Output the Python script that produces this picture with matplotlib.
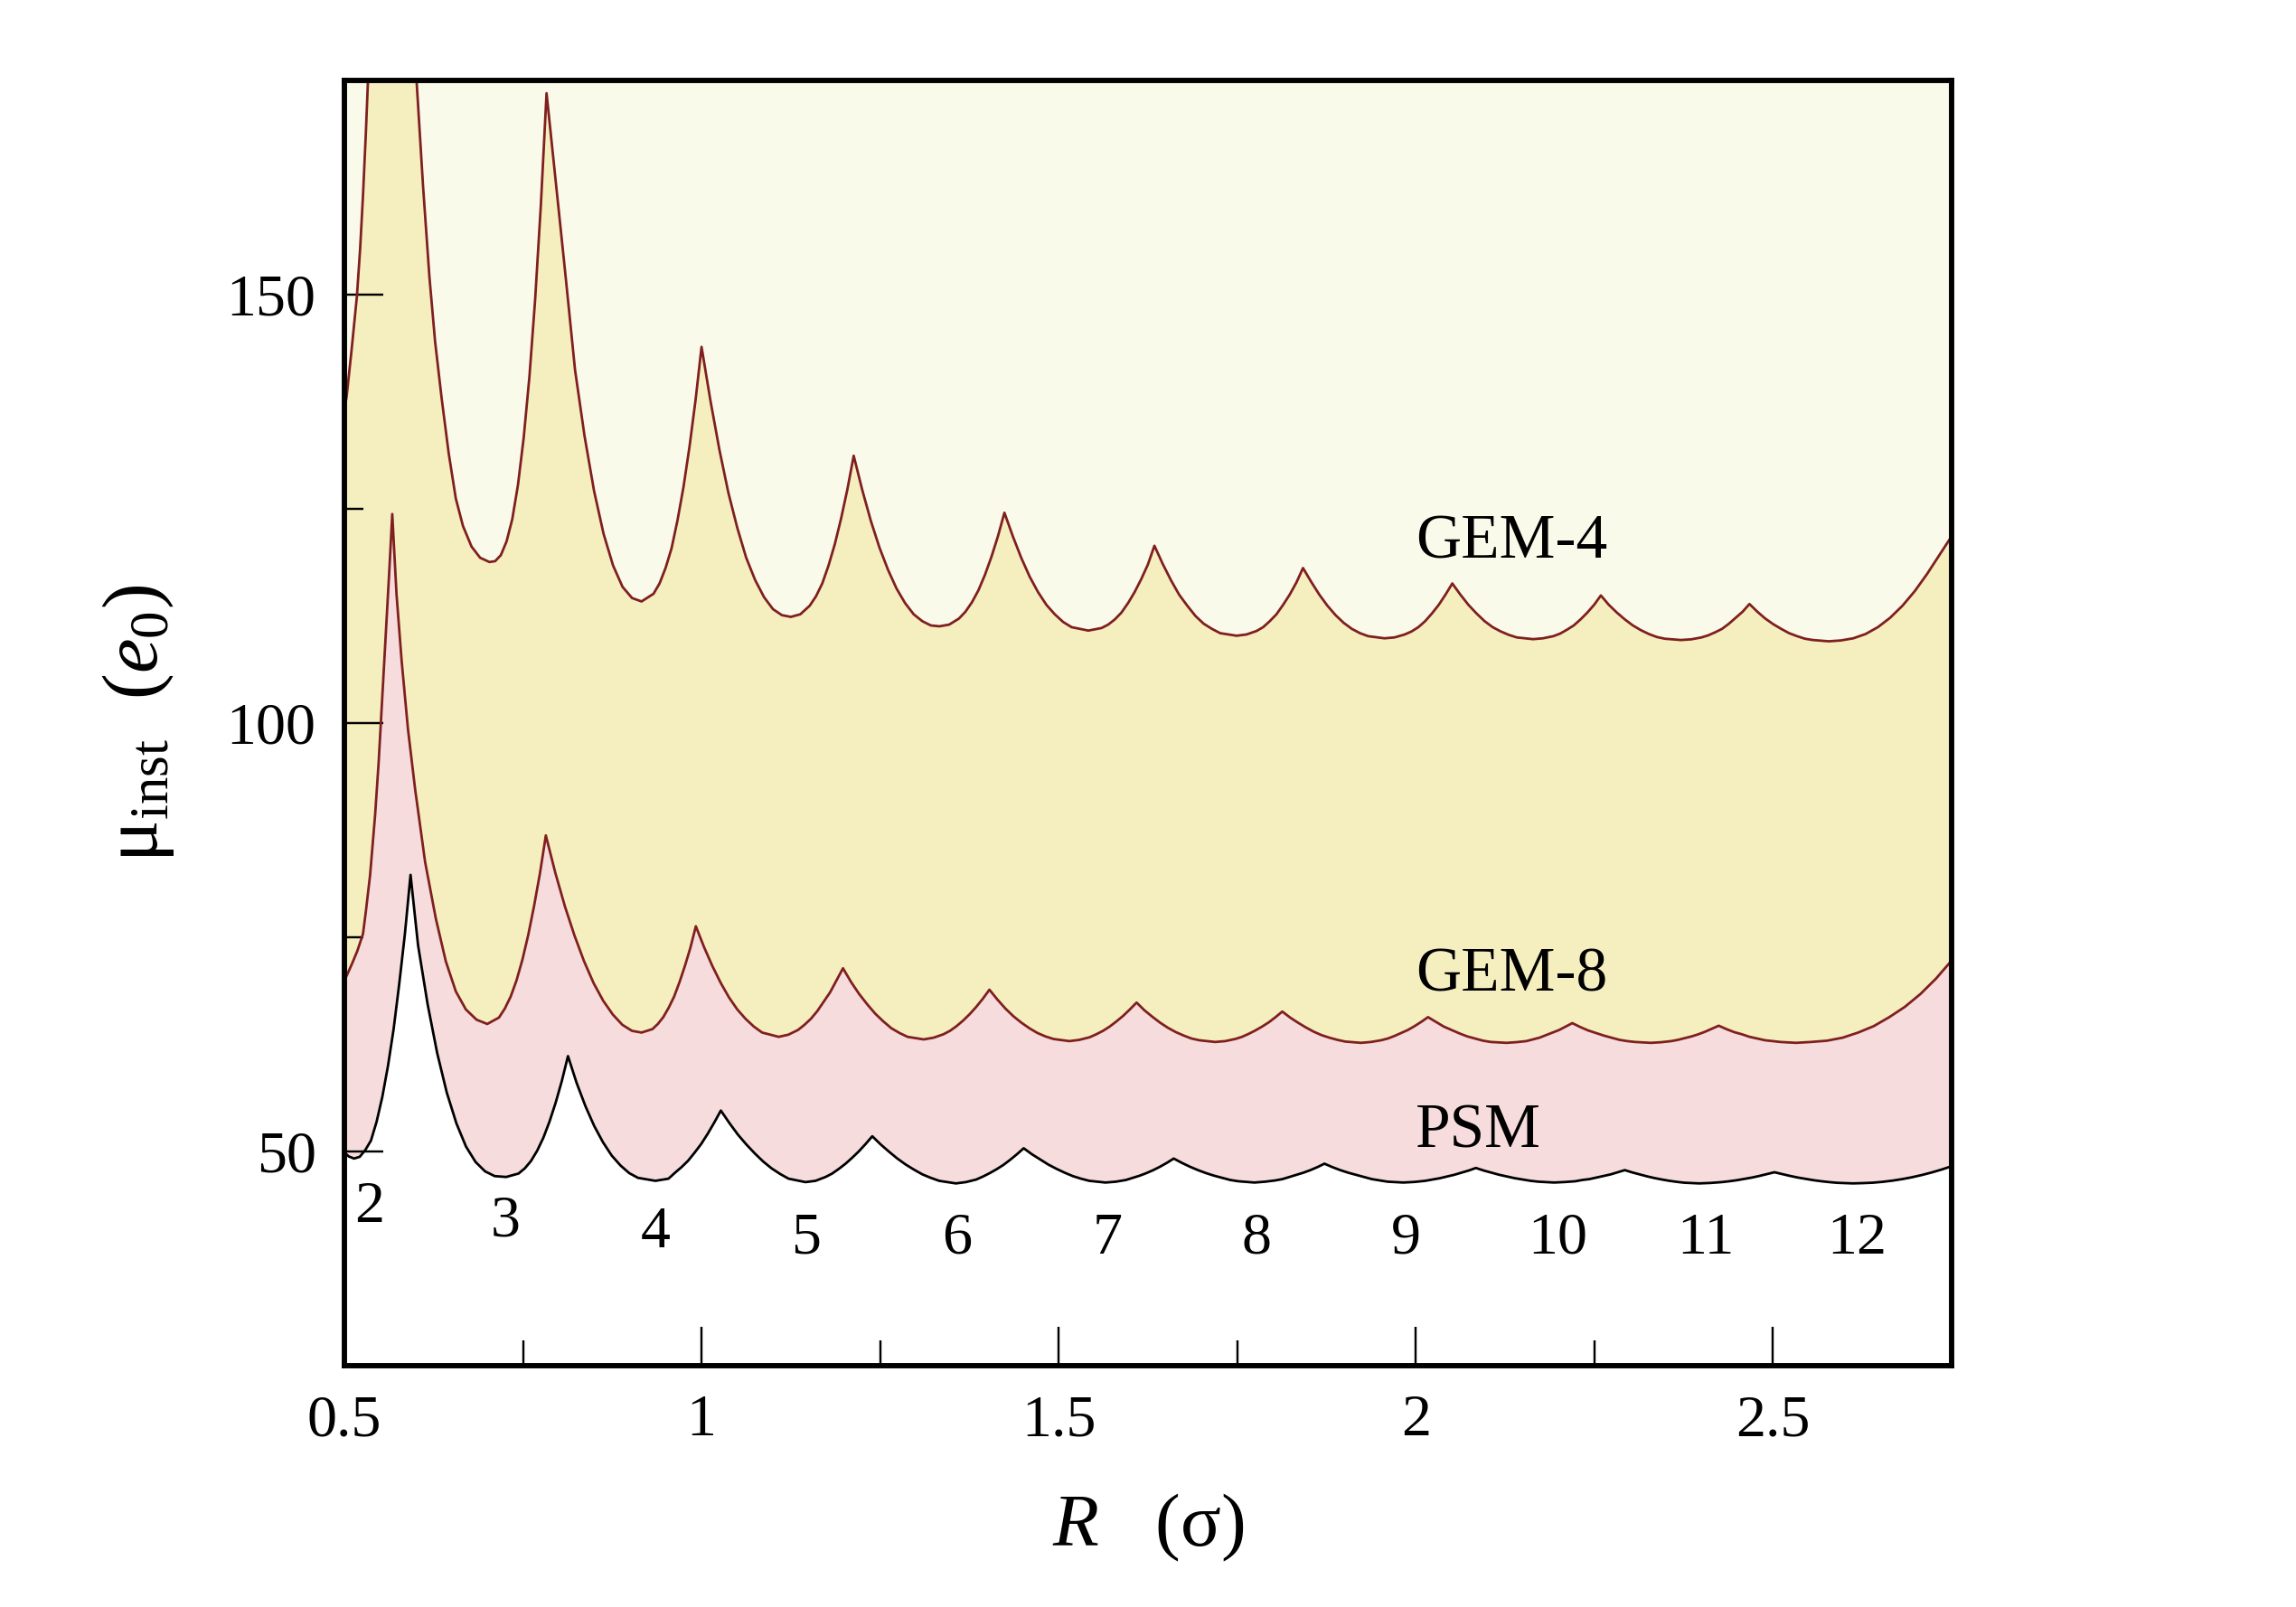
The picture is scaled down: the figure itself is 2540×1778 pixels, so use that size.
import matplotlib
matplotlib.use('Agg')
import matplotlib.pyplot as plt
from matplotlib.ticker import MultipleLocator

plt.rcParams['font.family'] = ['Liberation Serif', 'DejaVu Serif']
plt.rcParams['mathtext.fontset'] = 'custom'
plt.rcParams['mathtext.rm'] = 'Liberation Serif'
plt.rcParams['mathtext.it'] = 'Liberation Serif:italic'

# values: R (sigma) and mu_inst (e0)
gem4_R = [0.500, 0.503, 0.510, 0.5175, 0.522, 0.526, 0.530, 0.533, 0.540, 0.552, 0.566,
          0.585, 0.601, 0.610, 0.619, 0.627, 0.636, 0.646, 0.656, 0.666, 0.678, 0.690, 0.703,
          0.711, 0.719, 0.727, 0.735, 0.743, 0.751, 0.759, 0.767, 0.775, 0.783,
          0.7963, 0.8096, 0.8229, 0.8362, 0.8495, 0.8628, 0.8761, 0.8894, 0.9027, 0.916,
          0.9328, 0.9412, 0.9496, 0.958, 0.9664, 0.9748, 0.9832, 0.9916, 1.000,
          1.0125, 1.025, 1.0375, 1.050, 1.0625, 1.075, 1.0875, 1.100, 1.1125, 1.125,
          1.1382, 1.1514, 1.1602, 1.169, 1.1778, 1.1866, 1.1954, 1.2042, 1.213,
          1.225, 1.237, 1.249, 1.261, 1.273, 1.285, 1.297, 1.309, 1.321, 1.333,
          1.3467, 1.3603, 1.3694, 1.3785, 1.3876, 1.3967, 1.4058, 1.4149, 1.424,
          1.4358, 1.4475, 1.4593, 1.471, 1.4828, 1.4945, 1.5063, 1.518, 1.5415,
          1.560, 1.5693, 1.5785, 1.5878, 1.597, 1.6063, 1.6155, 1.6248, 1.634,
          1.6455, 1.657, 1.6685, 1.680, 1.6915, 1.703, 1.7145, 1.726, 1.749,
          1.763, 1.7769, 1.7862, 1.7955, 1.8048, 1.8141, 1.8234, 1.8327, 1.842,
          1.8534, 1.8648, 1.8762, 1.8876, 1.899, 1.9104, 1.9218, 1.9332, 1.956,
          1.970, 1.9845, 1.994, 2.0035, 2.013, 2.0225, 2.032, 2.0415, 2.051,
          2.0623, 2.0736, 2.0849, 2.0962, 2.1075, 2.1188, 2.1301, 2.1414, 2.164,
          2.178, 2.1925, 2.202, 2.2115, 2.221, 2.2305, 2.240, 2.2495, 2.259,
          2.2702, 2.2814, 2.2926, 2.3038, 2.315, 2.3262, 2.3374, 2.3486, 2.371,
          2.3854, 2.3998, 2.4094, 2.419, 2.4286, 2.4382, 2.4478, 2.4574, 2.467,
          2.4781, 2.4892, 2.5003, 2.5114, 2.5225, 2.5336, 2.5447, 2.5558, 2.578,
          2.595, 2.6124, 2.6296, 2.6468, 2.664, 2.6812, 2.6984, 2.7156, 2.7328, 2.750]
gem4_mu = [136.8, 138.0, 143.5, 149.8, 155.3, 161.5, 168.8, 175.0, 192.0, 230.0, 290.0,
           205.0, 175.0, 162.8, 152.1, 144.5, 138.0, 131.5, 126.2, 123.0, 120.6, 119.3, 118.8,
           118.9, 119.6, 121.2, 123.8, 127.8, 133.3, 140.4, 149.4, 160.4, 173.5,
           162.8, 152.2, 141.2, 133.5, 127.1, 122.1, 118.4, 115.9, 114.6, 114.2,
           115.1, 116.3, 118.1, 120.4, 123.7, 127.6, 132.3, 137.7, 143.9,
           137.6, 131.9, 126.9, 122.8, 119.3, 116.7, 114.7, 113.3, 112.6, 112.4,
           112.7, 113.7, 114.8, 116.3, 118.4, 120.9, 123.9, 127.3, 131.2,
           127.2, 123.6, 120.5, 117.9, 115.7, 114.0, 112.7, 111.9, 111.4, 111.3,
           111.5, 112.2, 113.0, 114.1, 115.5, 117.3, 119.4, 121.8, 124.55,
           121.8, 119.3, 117.1, 115.3, 113.8, 112.7, 111.8, 111.2, 110.8,
           111.1, 111.5, 112.1, 112.9, 114.0, 115.3, 116.8, 118.5, 120.7,
           118.6, 116.7, 115.0, 113.7, 112.5, 111.6, 111.0, 110.5, 110.2,
           110.35, 110.75, 111.2, 111.9, 112.7, 113.8, 115.0, 116.4, 118.1,
           116.5, 115.0, 113.7, 112.6, 111.7, 111.0, 110.5, 110.15, 109.9,
           110.0, 110.35, 110.7, 111.2, 111.9, 112.8, 113.8, 115.0, 116.3,
           115.0, 113.8, 112.8, 111.9, 111.2, 110.7, 110.3, 110.0, 109.8,
           109.9, 110.15, 110.45, 110.9, 111.4, 112.1, 112.9, 113.8, 114.9,
           113.8, 112.9, 112.1, 111.4, 110.85, 110.4, 110.05, 109.85, 109.7,
           109.78, 110.0, 110.25, 110.6, 111.0, 111.6, 112.3, 113.0, 113.9,
           113.0, 112.2, 111.55, 111.0, 110.5, 110.15, 109.85, 109.7, 109.55,
           109.65, 109.9, 110.4, 111.2, 112.3, 113.7, 115.4, 117.4, 119.6, 121.8]

gem8_R = [0.500, 0.503, 0.510, 0.518, 0.526, 0.530, 0.536, 0.543, 0.548, 0.554, 0.559, 0.563, 0.567,
          0.573, 0.580, 0.589, 0.599, 0.613, 0.628, 0.642, 0.656, 0.670, 0.685, 0.700,
          0.7164, 0.7246, 0.7328, 0.741, 0.7492, 0.7574, 0.7656, 0.7738, 0.782,
          0.7954, 0.8088, 0.8222, 0.8356, 0.849, 0.8624, 0.8758, 0.8892, 0.9026, 0.916,
          0.9312, 0.9388, 0.9464, 0.954, 0.9616, 0.9692, 0.9768, 0.9844, 0.992,
          1.0036, 1.0152, 1.0268, 1.0384, 1.050, 1.0616, 1.0732, 1.0848, 1.108,
          1.1215, 1.135, 1.144, 1.153, 1.162, 1.171, 1.180, 1.189, 1.198,
          1.2093, 1.2206, 1.2319, 1.2432, 1.2545, 1.2658, 1.2771, 1.2884, 1.311,
          1.3248, 1.3386, 1.3478, 1.357, 1.3662, 1.3754, 1.3846, 1.3938, 1.403,
          1.4142, 1.4254, 1.4366, 1.4478, 1.459, 1.4702, 1.4814, 1.4926, 1.515,
          1.529, 1.5432, 1.5526, 1.562, 1.5714, 1.5808, 1.5902, 1.5996, 1.609,
          1.620, 1.631, 1.642, 1.653, 1.664, 1.675, 1.686, 1.697, 1.719,
          1.733, 1.7472, 1.7566, 1.766, 1.7754, 1.7848, 1.7942, 1.8036, 1.813,
          1.824, 1.835, 1.846, 1.857, 1.868, 1.879, 1.890, 1.901, 1.923,
          1.937, 1.9512, 1.9606, 1.970, 1.9794, 1.9888, 1.9982, 2.0076, 2.017,
          2.028, 2.039, 2.050, 2.061, 2.072, 2.083, 2.094, 2.105, 2.127,
          2.141, 2.1546, 2.1638, 2.173, 2.1822, 2.1914, 2.2006, 2.2098, 2.219,
          2.230, 2.241, 2.252, 2.263, 2.274, 2.285, 2.296, 2.307, 2.329,
          2.343, 2.3575, 2.367, 2.3765, 2.386, 2.3955, 2.405, 2.4145, 2.424,
          2.4348, 2.4456, 2.4564, 2.4672, 2.478, 2.4888, 2.4996, 2.5104, 2.532,
          2.553, 2.5756, 2.5974, 2.6192, 2.641, 2.6628, 2.6846, 2.7064, 2.7282, 2.750]
gem8_mu = [70.0, 70.5, 71.8, 73.4, 75.4, 78.0, 82.3, 89.3, 95.5, 104.4, 112.0, 118.0, 124.4,
           115.0, 107.4, 99.3, 92.3, 83.8, 77.2, 72.2, 68.7, 66.6, 65.4, 64.9,
           65.65, 66.7, 68.1, 70.0, 72.4, 75.3, 78.7, 82.5, 86.9,
           82.5, 78.6, 75.2, 72.2, 69.65, 67.6, 66.0, 64.8, 64.1, 63.9,
           64.3, 64.9, 65.7, 66.8, 68.1, 69.8, 71.7, 73.8, 76.3,
           73.85, 71.65, 69.7, 68.0, 66.6, 65.5, 64.6, 63.9, 63.4,
           63.65, 64.2, 64.8, 65.5, 66.4, 67.5, 68.6, 70.0, 71.4,
           69.8, 68.4, 67.2, 66.1, 65.2, 64.4, 63.85, 63.4, 63.1,
           63.3, 63.7, 64.1, 64.65, 65.3, 66.05, 66.9, 67.85, 68.9,
           67.75, 66.7, 65.8, 65.05, 64.4, 63.85, 63.45, 63.15, 62.9,
           63.05, 63.35, 63.7, 64.1, 64.6, 65.2, 65.85, 66.6, 67.4,
           66.5, 65.75, 65.05, 64.45, 63.95, 63.55, 63.2, 63.0, 62.8,
           62.9, 63.15, 63.4, 63.75, 64.15, 64.6, 65.1, 65.7, 66.35,
           65.65, 65.05, 64.5, 64.0, 63.6, 63.3, 63.05, 62.85, 62.7,
           62.8, 63.0, 63.2, 63.5, 63.85, 64.2, 64.65, 65.15, 65.7,
           65.15, 64.6, 64.2, 63.8, 63.45, 63.2, 62.95, 62.8, 62.7,
           62.78, 62.9, 63.1, 63.3, 63.6, 63.9, 64.2, 64.6, 65.0,
           64.55, 64.15, 63.85, 63.55, 63.3, 63.05, 62.9, 62.8, 62.7,
           62.77, 62.9, 63.05, 63.25, 63.45, 63.7, 64.0, 64.35, 64.7,
           64.3, 63.95, 63.7, 63.4, 63.2, 63.0, 62.9, 62.8, 62.7,
           62.8, 62.95, 63.3, 63.9, 64.65, 65.7, 66.9, 68.4, 70.2, 72.3]

psm_R = [0.500, 0.506, 0.5135, 0.5214, 0.5293, 0.5372, 0.5451, 0.5531, 0.561, 0.5689, 0.5768, 0.5847, 0.5926,
         0.6031, 0.6165, 0.6299, 0.6433, 0.6568, 0.6702, 0.6836, 0.697, 0.7104, 0.7265,
         0.7438, 0.7525, 0.7611, 0.7698, 0.7784, 0.7871, 0.7957, 0.8044, 0.813,
         0.8252, 0.8375, 0.8497, 0.862, 0.8742, 0.8864, 0.8987, 0.9109, 0.9354,
         0.9537, 0.9629, 0.972, 0.9812, 0.9904, 0.9995, 1.0087, 1.0178, 1.027,
         1.0389, 1.0508, 1.0626, 1.0745, 1.0863, 1.0981, 1.110, 1.1218, 1.1455,
         1.1595, 1.1736, 1.1829, 1.1923, 1.2016, 1.211, 1.2203, 1.2297, 1.239,
         1.2507, 1.2624, 1.2741, 1.2858, 1.2975, 1.3092, 1.3209, 1.3326, 1.356,
         1.370, 1.3845, 1.394, 1.4035, 1.413, 1.4225, 1.432, 1.4415, 1.451,
         1.4625, 1.474, 1.4854, 1.4969, 1.5083, 1.5198, 1.5312, 1.5427, 1.5655,
         1.580, 1.5942, 1.6037, 1.6133, 1.6228, 1.6324, 1.6419, 1.6515, 1.661,
         1.6723, 1.6836, 1.6949, 1.7062, 1.7175, 1.7288, 1.7401, 1.7514, 1.774,
         1.789, 1.8034, 1.8132, 1.823, 1.8328, 1.8426, 1.8524, 1.8622, 1.872,
         1.8831, 1.8941, 1.9052, 1.9162, 1.9273, 1.9383, 1.9494, 1.9604, 1.9825,
         1.998, 2.013, 2.0231, 2.0333, 2.0434, 2.0536, 2.0637, 2.0739, 2.084,
         2.095, 2.1059, 2.1169, 2.1278, 2.1388, 2.1497, 2.1607, 2.1716, 2.1935,
         2.2085, 2.2232, 2.2331, 2.243, 2.2529, 2.2628, 2.2727, 2.2826, 2.2925,
         2.3029, 2.3133, 2.3237, 2.3341, 2.3446, 2.355, 2.3654, 2.3758, 2.3966,
         2.412, 2.4282, 2.4388, 2.4493, 2.4598, 2.4704, 2.4809, 2.4915, 2.502,
         2.513, 2.5239, 2.5349, 2.5459, 2.5569, 2.5678, 2.5788, 2.5897, 2.6117,
         2.625, 2.6394, 2.6532, 2.667, 2.6809, 2.6947, 2.7085, 2.7223, 2.7362, 2.750]
psm_mu = [49.9, 49.45, 49.2, 49.4, 50.2, 51.3, 53.5, 56.4, 60.0, 64.3, 69.6, 75.4, 82.3,
          74.1, 67.2, 61.5, 56.9, 53.3, 50.6, 48.8, 47.7, 47.15, 47.05,
          47.45, 48.05, 48.9, 50.1, 51.6, 53.5, 55.7, 58.25, 61.15,
          58.0, 55.3, 53.0, 51.1, 49.55, 48.4, 47.5, 46.95, 46.6,
          46.85, 47.55, 48.2, 48.95, 49.9, 50.9, 52.1, 53.4, 54.8,
          53.35, 52.0, 50.85, 49.8, 48.85, 48.05, 47.4, 46.85, 46.45,
          46.6, 47.05, 47.45, 48.0, 48.6, 49.3, 50.05, 50.9, 51.8,
          50.85, 50.0, 49.2, 48.5, 47.9, 47.35, 46.95, 46.6, 46.3,
          46.45, 46.75, 47.1, 47.5, 47.95, 48.45, 49.05, 49.7, 50.4,
          49.7, 49.1, 48.5, 48.0, 47.55, 47.15, 46.85, 46.6, 46.4,
          46.5, 46.7, 46.95, 47.2, 47.5, 47.85, 48.25, 48.7, 49.2,
          48.7, 48.25, 47.85, 47.5, 47.2, 46.95, 46.7, 46.55, 46.4,
          46.5, 46.65, 46.8, 47.05, 47.3, 47.55, 47.85, 48.2, 48.6,
          48.2, 47.85, 47.55, 47.3, 47.05, 46.8, 46.65, 46.5, 46.4,
          46.47, 46.6, 46.75, 46.9, 47.1, 47.3, 47.55, 47.8, 48.1,
          47.8, 47.55, 47.3, 47.1, 46.9, 46.75, 46.6, 46.5, 46.4,
          46.46, 46.55, 46.7, 46.8, 46.98, 47.15, 47.35, 47.6, 47.85,
          47.58, 47.35, 47.12, 46.92, 46.75, 46.6, 46.48, 46.38, 46.3,
          46.35, 46.45, 46.55, 46.67, 46.82, 46.98, 47.17, 47.38, 47.6,
          47.38, 47.17, 46.98, 46.82, 46.67, 46.55, 46.45, 46.37, 46.3,
          46.33, 46.38, 46.48, 46.62, 46.8, 47.02, 47.28, 47.58, 47.92, 48.3]

# particle-number labels under the PSM scallops
n_labels = ['2', '3', '4', '5', '6', '7', '8', '9', '10', '11', '12']
n_R = [0.535, 0.726, 0.935, 1.146, 1.357, 1.568, 1.777, 1.986, 2.199, 2.406, 2.617]
n_mu = [43.5, 41.8, 40.5, 39.8, 39.8, 39.8, 39.8, 39.8, 39.8, 39.8, 39.8]

model_names = ['GEM-4', 'GEM-8', 'PSM']
model_name_mu = [121.0, 70.5, 52.3]

cream = '#fafaeb'
yellow = '#f5efc0'
pink = '#f6dcdc'
lineRed = '#7f1f1f'

fig = plt.figure(figsize=(10.16, 7.112), dpi=250)
ax = fig.add_axes([0.15, 0.15, 0.70, 0.80])
ax.set_facecolor(cream)

# layered fills from the bottom up to each curve
ax.fill_between(gem4_R, 0, gem4_mu, color=yellow, lw=0)
ax.fill_between(gem8_R, 0, gem8_mu, color=pink, lw=0)
ax.fill_between(psm_R, 0, psm_mu, color='white', lw=0)

ax.plot(gem4_R, gem4_mu, color=lineRed, lw=0.8)
ax.plot(gem8_R, gem8_mu, color=lineRed, lw=0.8)
ax.plot(psm_R, psm_mu, color='black', lw=0.8)

for lab, r, m in zip(n_labels, n_R, n_mu):
    ax.text(r, m, lab, ha='center', va='center', fontsize=19)

for name, m in zip(model_names, model_name_mu):
    ax.text(2.0, m, name, ha='left', va='center', fontsize=20)

ax.set_xlim(0.5, 2.75)
ax.set_ylim(25, 175)
ax.xaxis.set_minor_locator(MultipleLocator(0.25))
ax.yaxis.set_minor_locator(MultipleLocator(25))
ax.set_xticks([0.5, 1, 1.5, 2, 2.5])
ax.set_xticklabels(['0.5', '1', '1.5', '2', '2.5'])
ax.set_yticks([50, 100, 150])
ax.set_yticklabels(['50', '100', '150'])

ax.tick_params(which='both', direction='in', top=False, right=False, width=0.7)
ax.tick_params(which='major', length=12.5, labelsize=19, pad=9)
ax.tick_params(axis='x', which='minor', length=8)
ax.tick_params(axis='y', which='minor', length=6)

for s in ax.spines.values():
    s.set_linewidth(1.7)
    s.set_zorder(5)

ax.set_xlabel(r'$R$   (σ)', fontsize=24, labelpad=14)
ax.set_ylabel(r'$\mathrm{μ}_{\mathrm{inst}}$  ($e_0$)', fontsize=25, labelpad=16)

fig.savefig('out.png', dpi=250)
